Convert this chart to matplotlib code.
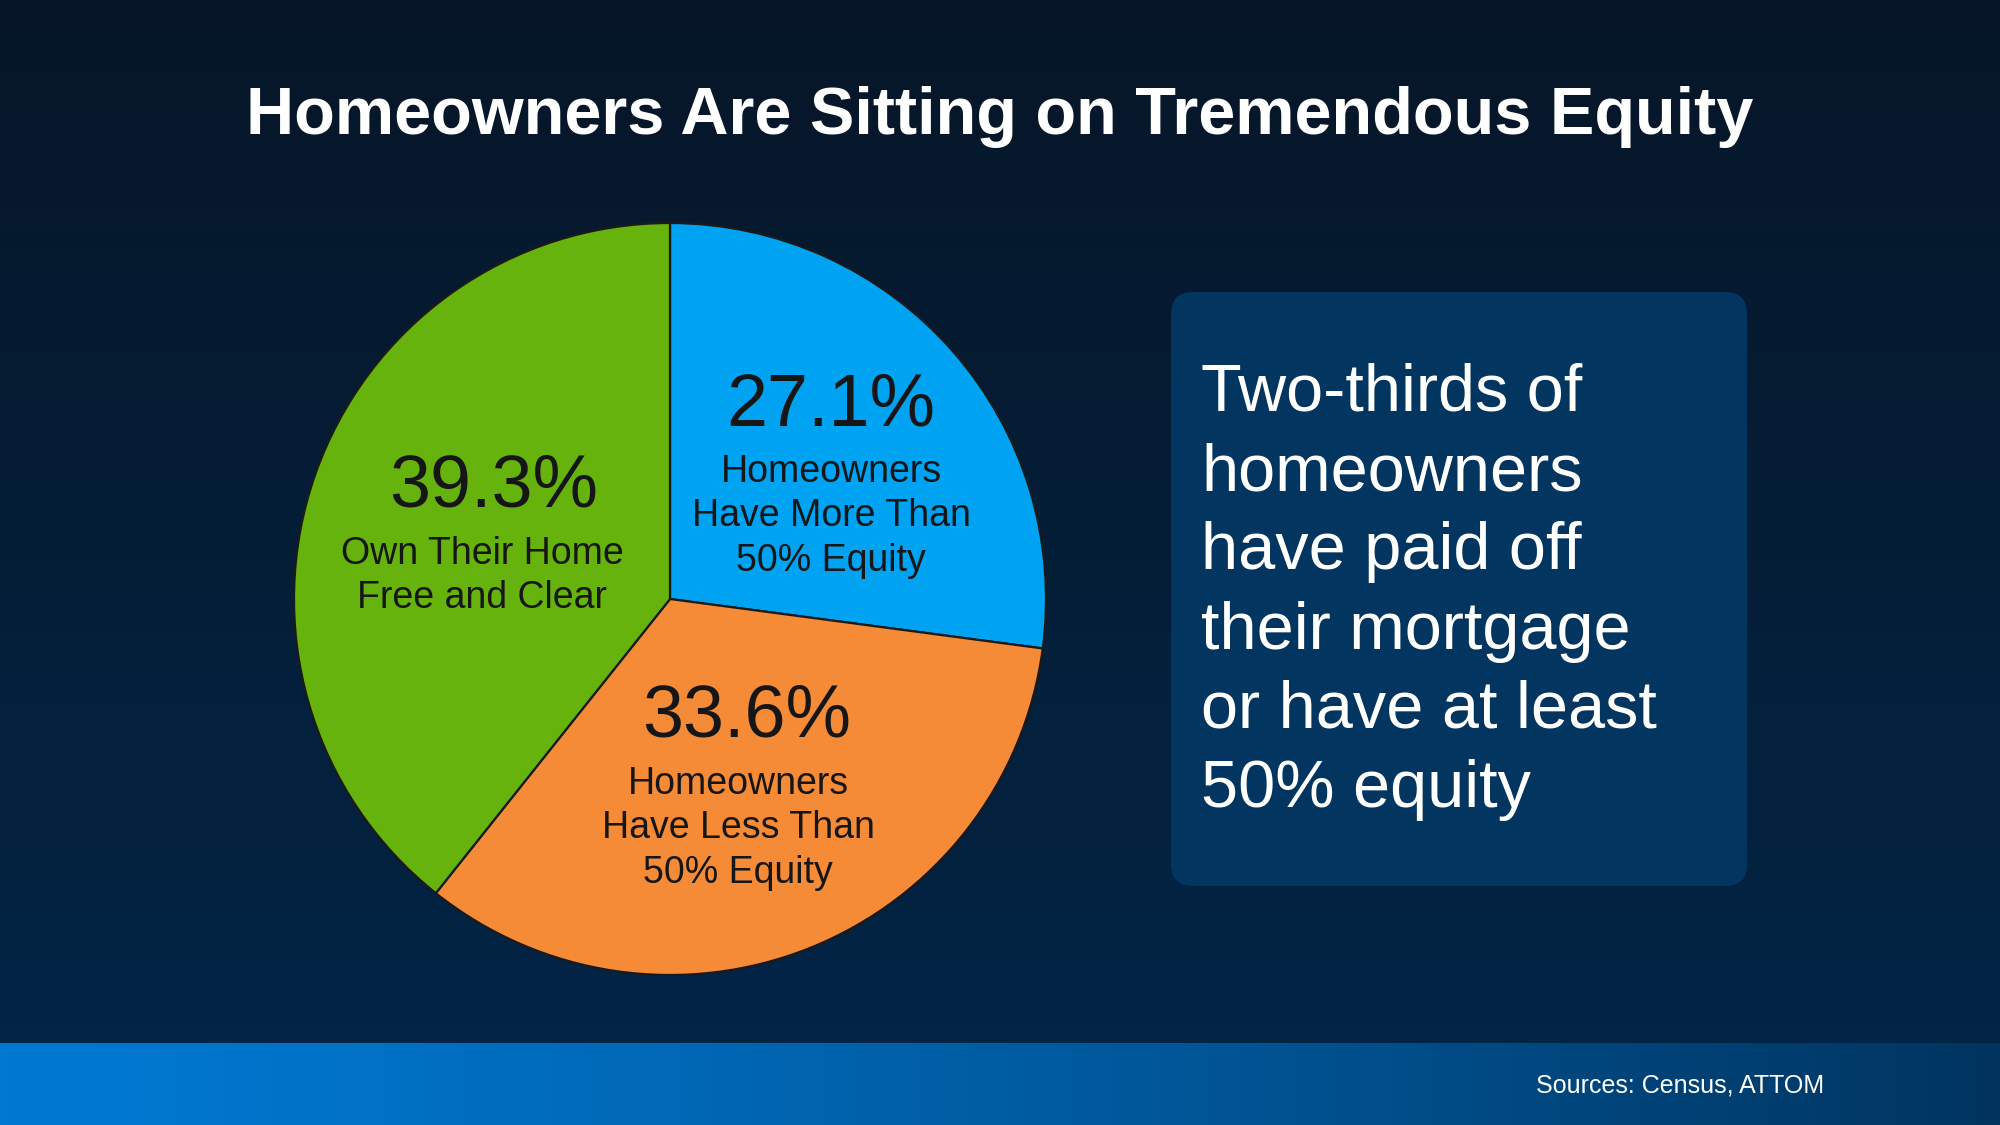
import matplotlib.pyplot as plt
import numpy as np
from matplotlib.patches import FancyBboxPatch

# data
shares = [27.1, 33.6, 39.3]
pct_labels = ["27.1%", "33.6%", "39.3%"]
desc_labels = [
    "Homeowners\nHave More Than\n50% Equity",
    "Homeowners\nHave Less Than\n50% Equity",
    "Own Their Home\nFree and Clear",
]
slice_colors = ["#00A2F2", "#F58B36", "#67B30D"]

title = "Homeowners Are Sitting on Tremendous Equity"
callout = ("Two-thirds of\nhomeowners\nhave paid off\ntheir mortgage\n"
           "or have at least\n50% equity")
source = "Sources: Census, ATTOM"

W, H = 2000, 1125
plt.rcParams["font.family"] = ["Liberation Sans", "DejaVu Sans"]

fig = plt.figure(figsize=(20, 11.25), dpi=100)
ax = fig.add_axes([0, 0, 1, 1])
ax.axis("off")

# background: dark navy vertical gradient (darker at top)
t = np.linspace(0, 1, 256)[:, None, None]
top = np.array([7, 22, 40]) / 255
bot = np.array([2, 38, 72]) / 255
bg = (top + (bot - top) * t) * np.ones((1, 2, 1))
ax.imshow(bg, extent=[0, W, 0, H], aspect="auto", zorder=0, origin="upper")

# footer band, horizontal gradient
s = np.linspace(0, 1, 256)[None, :, None]
left = np.array([0, 121, 210]) / 255
right = np.array([0, 52, 95]) / 255
band = left + (right - left) * s ** 1.3
ax.imshow(band, extent=[0, W, 0, 82], aspect="auto", zorder=1)

# title
ax.text(1000, H - 117, title, ha="center", va="center", color="white",
        fontsize=48, fontweight="bold", zorder=5)

# pie
cx, cy, r = 670, H - 599, 376
wedges, _ = ax.pie(shares, colors=slice_colors, startangle=90, counterclock=False,
                   center=(cx, cy), radius=r, frame=True,
                   wedgeprops=dict(edgecolor="#1a1a1a", linewidth=1.6))
for w in wedges:
    w.set_zorder(3)
ax.set_xlim(0, W)
ax.set_ylim(0, H)
ax.set_aspect("equal")
ax.axis("off")

# label positions (pixels from top)
pct_pos = [(831, 406), (747, 717), (494, 487)]
desc_pos = [(831, 471), (738, 783), (482, 553)]
for i in range(len(shares)):
    px, py = pct_pos[i]
    ax.text(px, H - py, pct_labels[i], ha="center", va="center",
            fontsize=53, color="#161616", zorder=6)
    dx, dy = desc_pos[i]
    ax.text(dx, H - dy + 17, desc_labels[i], ha="center", va="top",
            fontsize=27, color="#161616", linespacing=1.30, zorder=6)

# callout box
box = FancyBboxPatch((1171 + 22, H - 886 + 22), 576 - 44, 594 - 44,
                     boxstyle="round,pad=22", facecolor="#02355F",
                     edgecolor="none", zorder=2)
ax.add_patch(box)
ax.text(1201, H - 592, callout, ha="left", va="center", color="white",
        fontsize=48, linespacing=1.36, zorder=6)

# source
ax.text(1824, H - 1085, source, ha="right", va="center", color="white",
        fontsize=18, zorder=6)

fig.savefig("out.png", dpi=100)
